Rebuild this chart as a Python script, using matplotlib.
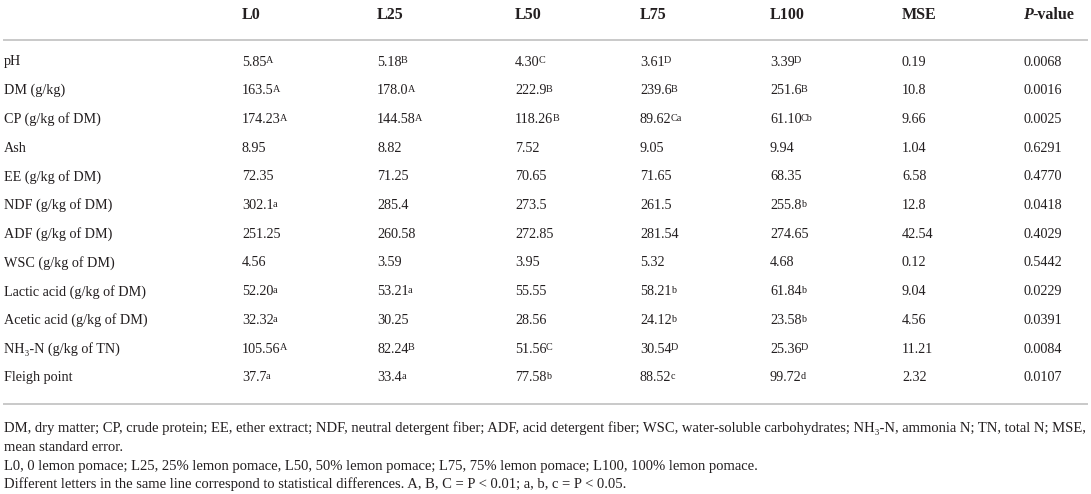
import matplotlib
matplotlib.use('Agg')
import matplotlib.pyplot as plt

plt.rcParams['font.family'] = ['Liberation Serif', 'DejaVu Serif']

# table content
columns = ['L0', 'L25', 'L50', 'L75', 'L100', 'MSE']
row_labels = ['pH', 'DM (g/kg)', 'CP (g/kg of DM)', 'Ash', 'EE (g/kg of DM)',
              'NDF (g/kg of DM)', 'ADF (g/kg of DM)', 'WSC (g/kg of DM)',
              'Lactic acid (g/kg of DM)', 'Acetic acid (g/kg of DM)',
              'NH\u2083-N (g/kg of TN)', 'Fleigh point']

l0 = ['5.85', '163.5', '174.23', '8.95', '72.35', '302.1', '251.25', '4.56', '52.20', '32.32', '105.56', '37.7']
l0_sup = ['A', 'A', 'A', '', '', 'a', '', '', 'a', 'a', 'A', 'a']
l25 = ['5.18', '178.0', '144.58', '8.82', '71.25', '285.4', '260.58', '3.59', '53.21', '30.25', '82.24', '33.4']
l25_sup = ['B', 'A', 'A', '', '', '', '', '', 'a', '', 'B', 'a']
l50 = ['4.30', '222.9', '118.26', '7.52', '70.65', '273.5', '272.85', '3.95', '55.55', '28.56', '51.56', '77.58']
l50_sup = ['C', 'B', 'B', '', '', '', '', '', '', '', 'C', 'b']
l75 = ['3.61', '239.6', '89.62', '9.05', '71.65', '261.5', '281.54', '5.32', '58.21', '24.12', '30.54', '88.52']
l75_sup = ['D', 'B', 'Ca', '', '', '', '', '', 'b', 'b', 'D', 'c']
l100 = ['3.39', '251.6', '61.10', '9.94', '68.35', '255.8', '274.65', '4.68', '61.84', '23.58', '25.36', '99.72']
l100_sup = ['D', 'B', 'Cb', '', '', 'b', '', '', 'b', 'b', 'D', 'd']
mse = ['0.19', '10.8', '9.66', '1.04', '6.58', '12.8', '42.54', '0.12', '9.04', '4.56', '11.21', '2.32']
p_value = ['0.0068', '0.0016', '0.0025', '0.6291', '0.4770', '0.0418', '0.4029', '0.5442',
           '0.0229', '0.0391', '0.0084', '0.0107']

footnotes = [
    'DM, dry matter; CP, crude protein; EE, ether extract; NDF, neutral detergent fiber; ADF, acid detergent fiber; '
    'WSC, water-soluble carbohydrates; NH\u2083-N, ammonia N; TN, total N; MSE,',
    'mean standard error.',
    'L0, 0 lemon pomace; L25, 25% lemon pomace, L50, 50% lemon pomace; L75, 75% lemon pomace; L100, 100% lemon pomace.',
    'Different letters in the same line correspond to statistical differences. A, B, C = P < 0.01; a, b, c = P < 0.05.',
]

col_values = [l0, l25, l50, l75, l100, mse, p_value]
col_sups = [l0_sup, l25_sup, l50_sup, l75_sup, l100_sup, None, None]

# layout in pixels
W, H = 1091, 494
col_x = [242, 377, 515, 640, 770, 902, 1023]
label_x = 4
header_y = 15
row_y0 = 62
row_step = 28.7
rule_top = 40
rule_bottom = 404
foot_y = [428, 447, 466, 484]
ink = '#231f20'
rule_color = '#c9c9c9'
body_size = 10.2
head_size = 11.5

fig = plt.figure(figsize=(W / 100, H / 100), dpi=100)
ax = fig.add_axes([0, 0, 1, 1])
ax.set_xlim(0, W)
ax.set_ylim(H, 0)
ax.axis('off')

# header
for name, x in zip(columns, col_x):
    ax.text(x, header_y, name, ha='left', va='center', fontsize=head_size, fontweight='bold', color=ink)
p_txt = ax.text(col_x[6], header_y, 'P', ha='left', va='center', fontsize=head_size,
                fontweight='bold', fontstyle='italic', color=ink)
ax.annotate('-value', xy=(1, 0), xycoords=p_txt, ha='left', va='bottom',
            fontsize=head_size, fontweight='bold', color=ink)

ax.plot([4, 1087], [rule_top, rule_top], color=rule_color, lw=1.4)
ax.plot([4, 1087], [rule_bottom, rule_bottom], color=rule_color, lw=1.4)

for i, label in enumerate(row_labels):
    y = row_y0 + i * row_step
    ax.text(label_x, y, label, ha='left', va='center', fontsize=body_size, color=ink)
    for x, vals, sups in zip(col_x, col_values, col_sups):
        t = ax.text(x, y, vals[i], ha='left', va='center', fontsize=body_size, color=ink)
        if sups and sups[i]:
            ax.annotate(sups[i], xy=(1, 1), xycoords=t, xytext=(-0.4, -0.6),
                        textcoords='offset points', ha='left', va='top',
                        fontsize=7.3, color=ink)

for y, line in zip(foot_y, footnotes):
    ax.text(label_x, y, line, ha='left', va='center', fontsize=10.5, color=ink)

fig.savefig('out.png', dpi=100)
